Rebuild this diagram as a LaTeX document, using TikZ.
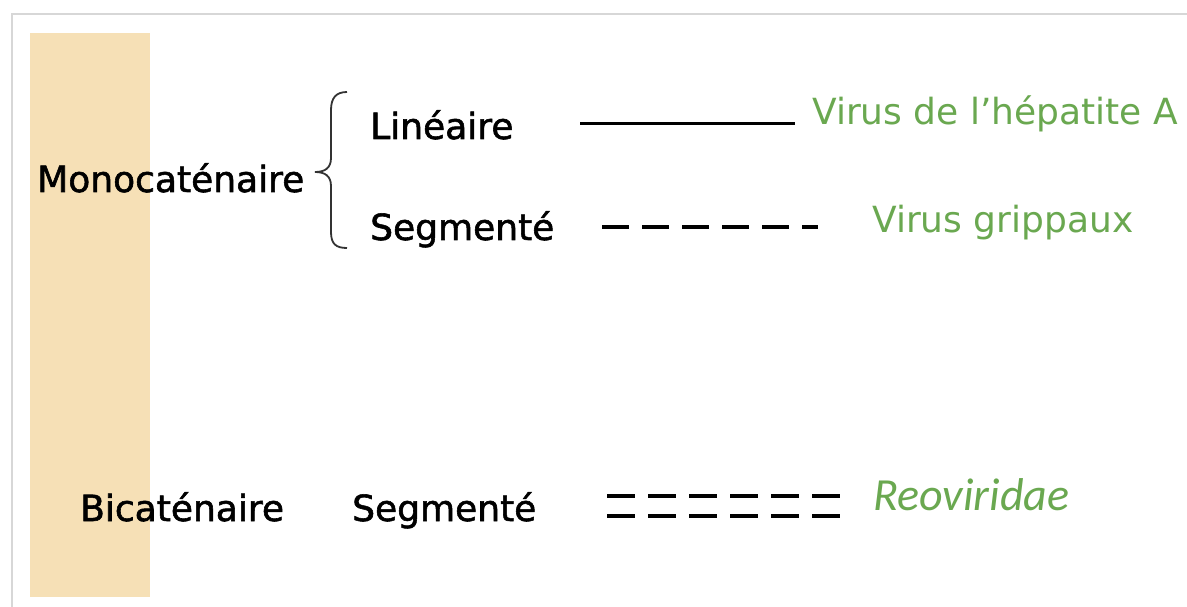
\documentclass[tikz,border=0pt]{standalone}
\usepackage{fontspec}
\setmainfont{DejaVu Sans}
\newfontfamily\heavy[FakeBold=1.6]{DejaVu Sans}
\newfontfamily\calib{Carlito}
\definecolor{beige}{RGB}{246,224,182}
\definecolor{vgreen}{RGB}{106,168,80}
\definecolor{frame}{RGB}{215,215,215}
\begin{document}
\begin{tikzpicture}[x=1pt,y=-1pt,
  lbl/.style={anchor=base west,inner sep=0pt,font=\heavy\fontsize{36}{40}\selectfont,text=black},
  vir/.style={anchor=base west,inner sep=0pt,font=\fontsize{36}{40}\selectfont,text=vgreen},
  strand/.style={line width=3pt,black},
  dstrand/.style={line width=3.5pt,black,dash pattern=on 27pt off 13pt},
  ddstrand/.style={line width=4.5pt,black,dash pattern=on 28pt off 13pt}]
\useasboundingbox (0,0) rectangle (1187,607);
\fill[white] (0,0) rectangle (1187,607);
% frame
\draw[frame,line width=2pt] (12,607) -- (12,14) -- (1187,14);
% beige band
\fill[beige] (30,33) rectangle (150,597);
% labels
\node[lbl] (mono) at (37,192) {Monocaténaire};
\node[lbl] (lin) at (370,139) {Linéaire};
\node[lbl] (seg1) at (370,240) {Segmenté};
\node[lbl] (bi) at (80,521) {Bicaténaire};
\node[lbl] (seg2) at (352,521) {Segmenté};
\node[vir] (hav) at (812,125) {Virus de l’hépatite A};
\node[vir] (grip) at (872,233) {Virus grippaux};
\node[anchor=base west,inner sep=0pt,font=\calib\itshape\fontsize{46}{50}\selectfont,text=vgreen] (reo) at (873,510) {Reoviridae};
% brace
\draw[line width=1.8pt,black!80] (347,92) .. controls (336,92) and (331,98) .. (331,110) -- (331,158)
  .. controls (331,168) and (325,172) .. (315,172)
  .. controls (325,172) and (331,176) .. (331,186) -- (331,232)
  .. controls (331,244) and (336,248) .. (347,248);
% strands
\coordinate (l1a) at (580,124); \coordinate (l1b) at (795,124);
\coordinate (l2a) at (602,227); \coordinate (l2b) at (818,227);
\coordinate (l3a) at (607,496); \coordinate (l3b) at (840,496);
\coordinate (l4a) at (607,516); \coordinate (l4b) at (840,516);
\draw[strand] (l1a) -- (l1b);
\draw[dstrand] (l2a) -- (l2b);
\draw[ddstrand] (l3a) -- (l3b);
\draw[ddstrand] (l4a) -- (l4b);
\end{tikzpicture}
\end{document}
